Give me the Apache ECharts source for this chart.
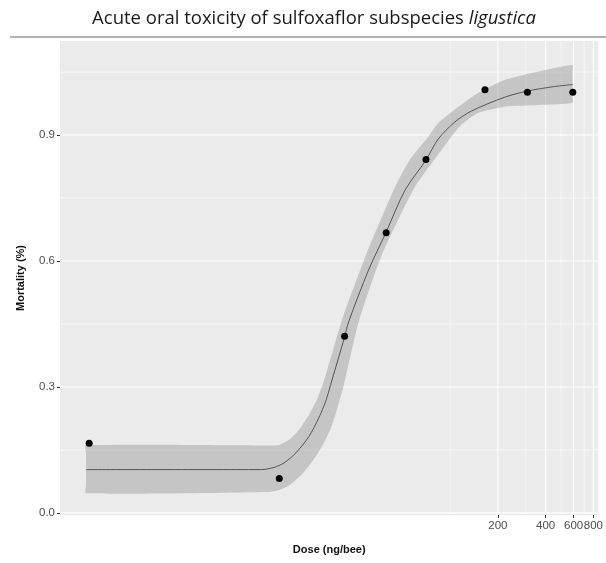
<!DOCTYPE html>
<html><head><meta charset="utf-8">
<script src="https://cdn.jsdelivr.net/npm/echarts@6/dist/echarts.min.js"></script>
<style>html,body{margin:0;padding:0;background:#fff}#c{width:606px;height:563px}</style>
</head><body><div id="c"></div>
<script>
// observed points
const doseObs = [0.53, 8.37, 21.6, 39.5, 70.4, 165.8, 307, 593];
const mortObs = [0.166, 0.082, 0.421, 0.667, 0.842, 1.008, 1.002, 1.002];
// fitted curve
const curveDose = [0.506, 6.24, 6.71, 7.75, 8.96, 10.65, 12.85, 14.85, 16.44, 17.92, 21.6, 22.9, 30.6, 39.5, 52.0, 70.4, 84.1, 107.0, 136.0, 220.3, 307.2, 453.6, 591];
const curveFit  = [0.1031, 0.1031, 0.1035, 0.1083, 0.119, 0.1429, 0.1817, 0.2262, 0.2667, 0.3143, 0.419, 0.4548, 0.5786, 0.669, 0.769, 0.8405, 0.8905, 0.931, 0.957, 0.990, 1.0048, 1.0155, 1.0202];
// confidence band
const upperDose = [0.506, 7.21, 8.34, 9.63, 11.13, 12.85, 14.43, 16.08, 20.8, 29.8, 45.0, 56.1, 72.8, 84.1, 112.2, 149.8, 220.3, 356.4, 591];
const upperVal  = [0.1607, 0.1607, 0.1619, 0.1738, 0.1976, 0.2333, 0.269, 0.3167, 0.4595, 0.619, 0.7769, 0.8429, 0.896, 0.9286, 0.9667, 1.0, 1.031, 1.0507, 1.0667];
const lowerDose = [0.506, 7.21, 8.34, 9.63, 11.67, 14.16, 16.36, 17.92, 19.54, 21.3, 26.5, 37.1, 60.0, 101.9, 117.2, 149.8, 220.3, 356.4, 591];
const lowerVal  = [0.0469, 0.05, 0.0548, 0.0655, 0.0929, 0.1333, 0.1738, 0.2071, 0.2524, 0.3024, 0.4548, 0.6143, 0.7762, 0.896, 0.9238, 0.9524, 0.9674, 0.9714, 0.9769];
// axes
const xTickLabels = [200, 400, 600, 800];
const xMinorBreaks = [100, 300, 500, 700];
const yTickLabels = [0, 0.3, 0.6, 0.9];
const yMinorBreaks = [0.15, 0.45, 0.75, 1.05];
const xRange = [0.347, 861];
const yRange = [-0.005, 1.124];

const lg = Math.log10;
const chart = echarts.init(document.getElementById('c'), null, {renderer: 'canvas'});

const gridData = [];
xTickLabels.forEach(v => gridData.push([0, lg(v), 1.1]));
xMinorBreaks.forEach(v => gridData.push([0, lg(v), 0.55]));
yTickLabels.forEach(v => gridData.push([1, v, 1.1]));
yMinorBreaks.forEach(v => gridData.push([1, v, 0.55]));

const upperPts = upperDose.map((d, i) => [lg(d), upperVal[i]]);
const lowerPts = lowerDose.map((d, i) => [lg(d), lowerVal[i]]);

function edgeFill(a, b) {
  // intermediate points along a straight end edge so smoothing keeps it straight
  const out = [];
  for (let k = 1; k < 6; k++) {
    const t = k / 6;
    out.push([a[0] + (b[0] - a[0]) * t, a[1] + (b[1] - a[1]) * t]);
  }
  return out;
}

const option = {
  animation: false,
  backgroundColor: '#fff',
  graphic: [
    {type: 'line', shape: {x1: 10, y1: 37, x2: 606, y2: 37}, style: {stroke: '#b4b4b4', lineWidth: 2}},
    {type: 'text', x: 314, y: 19, style: {
      text: '{a|Acute oral toxicity of sulfoxaflor subspecies }{b|ligustica}',
      align: 'center', verticalAlign: 'middle',
      rich: {
        a: {fontFamily: 'Open Sans', fontSize: 18.5, fill: '#1a1a1a'},
        b: {fontFamily: 'Open Sans', fontSize: 18.5, fontStyle: 'italic', fill: '#1a1a1a'}
      }
    }}
  ],
  grid: {left: 60, right: 5, top: 41, bottom: 48, show: true, backgroundColor: '#ebebeb', borderWidth: 0},
  xAxis: {
    type: 'value', min: lg(xRange[0]), max: lg(xRange[1]),
    name: 'Dose (ng/bee)', nameLocation: 'middle', nameGap: 29,
    nameTextStyle: {fontFamily: 'Liberation Sans', fontWeight: 'bold', fontSize: 11, color: '#111'},
    axisLine: {show: false, onZero: false},
    splitLine: {show: false},
    axisTick: {show: true, length: 3, lineStyle: {color: '#333'}, customValues: xTickLabels.map(lg)},
    axisLabel: {customValues: xTickLabels.map(lg), margin: 5, color: '#4d4d4d', fontSize: 11.5, fontFamily: 'Liberation Sans',
      formatter: v => String(Math.round(Math.pow(10, v)))}
  },
  yAxis: {
    type: 'value', min: yRange[0], max: yRange[1],
    name: 'Mortality (%)', nameLocation: 'middle', nameGap: 34, nameRotate: 90,
    nameTextStyle: {fontFamily: 'Liberation Sans', fontWeight: 'bold', fontSize: 11, color: '#111'},
    axisLine: {show: false, onZero: false},
    splitLine: {show: false},
    axisTick: {show: true, length: 3, lineStyle: {color: '#333'}, customValues: yTickLabels},
    axisLabel: {customValues: yTickLabels, margin: 5, color: '#4d4d4d', fontSize: 11.5, fontFamily: 'Liberation Sans',
      formatter: v => v.toFixed(1)}
  },
  series: [
    {
      type: 'custom', silent: true, z: 1, clip: true,
      data: gridData,
      renderItem: function (params, api) {
        const cs = params.coordSys;
        const kind = api.value(0), v = api.value(1), w = api.value(2);
        if (kind === 0) {
          const p = api.coord([v, 0.5]);
          return {type: 'line', shape: {x1: p[0], y1: cs.y, x2: p[0], y2: cs.y + cs.height}, style: {stroke: '#ffffff', lineWidth: w}};
        }
        const p = api.coord([1, v]);
        return {type: 'line', shape: {x1: cs.x, y1: p[1], x2: cs.x + cs.width, y2: p[1]}, style: {stroke: '#ffffff', lineWidth: w}};
      }
    },
    {
      type: 'custom', silent: true, z: 2,
      data: [[0, 0]],
      renderItem: function (params, api) {
        const up = upperPts.map(p => api.coord(p));
        const lo = lowerPts.slice().reverse().map(p => api.coord(p));
        const pts = up.concat(edgeFill(up[up.length - 1], lo[0]), lo, edgeFill(lo[lo.length - 1], up[0]));
        return {type: 'polygon', shape: {points: pts, smooth: 0.2}, style: {fill: 'rgba(150,150,150,0.45)'}};
      }
    },
    {
      type: 'line', z: 3, silent: true, symbol: 'none', smooth: 0.3,
      data: curveDose.map((d, i) => [lg(d), curveFit[i]]),
      lineStyle: {color: '#555', width: 1}
    },
    {
      type: 'scatter', z: 4, symbol: 'circle', symbolSize: 7,
      data: doseObs.map((d, i) => [lg(d), mortObs[i]]),
      itemStyle: {color: '#000', opacity: 1}
    }
  ]
};
chart.setOption(option);
</script>
</body></html>
